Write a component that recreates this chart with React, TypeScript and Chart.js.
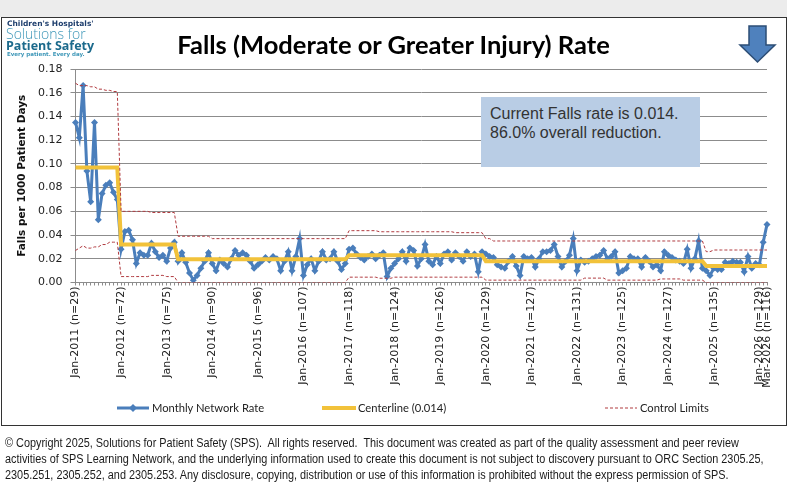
import React, { useEffect, useRef } from "react";
import { Chart, registerables } from "chart.js";

Chart.register(...registerables);

// Reporting period: Jan-2011 through Mar-2026, one point per month
const years = [2011, 2012, 2013, 2014, 2015, 2016, 2017, 2018, 2019, 2020, 2021, 2022, 2023, 2024, 2025, 2026];
const januarySampleSizes = [29, 72, 75, 90, 96, 107, 118, 124, 126, 129, 127, 131, 125, 127, 135, 129];
const lastMonthCount = 3;
const lastMonthTickLabel = "Mar-2026 (n=116)";
const monthNames = ["Jan", "Feb", "Mar", "Apr", "May", "Jun", "Jul", "Aug", "Sep", "Oct", "Nov", "Dec"];

// Falls per 1000 patient days, by month
const monthlyRate = [
  0.135, 0.122, 0.166, 0.094, 0.068, 0.135, 0.053, 0.075, 0.082, 0.084, 0.076, 0.070, // 2011
  0.028, 0.043, 0.044, 0.036, 0.016, 0.025, 0.023, 0.023, 0.033, 0.026, 0.021, 0.023, // 2012
  0.018, 0.029, 0.034, 0.018, 0.025, 0.017, 0.008, 0.002, 0.006, 0.012, 0.018, 0.025, // 2013
  0.016, 0.010, 0.019, 0.016, 0.013, 0.020, 0.027, 0.023, 0.025, 0.023, 0.018, 0.012, // 2014
  0.015, 0.018, 0.021, 0.019, 0.022, 0.020, 0.010, 0.018, 0.026, 0.010, 0.022, 0.037, // 2015
  0.006, 0.015, 0.020, 0.010, 0.018, 0.026, 0.019, 0.020, 0.026, 0.018, 0.011, 0.016, // 2016
  0.028, 0.029, 0.024, 0.021, 0.019, 0.022, 0.024, 0.020, 0.023, 0.025, 0.005, 0.012, // 2017
  0.016, 0.020, 0.026, 0.018, 0.029, 0.027, 0.014, 0.020, 0.032, 0.018, 0.015, 0.022, // 2018
  0.016, 0.024, 0.026, 0.019, 0.025, 0.022, 0.018, 0.026, 0.022, 0.024, 0.009, 0.026, // 2019
  0.024, 0.022, 0.021, 0.015, 0.013, 0.012, 0.018, 0.022, 0.014, 0.006, 0.022, 0.020, // 2020
  0.021, 0.013, 0.020, 0.026, 0.026, 0.027, 0.032, 0.022, 0.013, 0.018, 0.023, 0.037, // 2021
  0.010, 0.019, 0.017, 0.018, 0.020, 0.022, 0.023, 0.027, 0.020, 0.022, 0.026, 0.008, // 2022
  0.010, 0.012, 0.022, 0.020, 0.020, 0.013, 0.021, 0.018, 0.013, 0.015, 0.010, 0.026, // 2023
  0.023, 0.021, 0.019, 0.018, 0.016, 0.028, 0.012, 0.020, 0.035, 0.012, 0.010, 0.006, // 2024
  0.012, 0.011, 0.011, 0.017, 0.016, 0.018, 0.017, 0.017, 0.009, 0.022, 0.012, 0.016, // 2025
  0.015, 0.034, 0.049, // 2026
];

// Phase values as [first month index, value]
const centerlineSteps: [number, number][] = [
  [0, 0.097], [12, 0.032], [27, 0.0195], [72, 0.023], [108, 0.018], [166, 0.014],
];
const upperLimitSteps: [number, number][] = [
  [0, 0.168], [1, 0.166], [4, 0.165], [6, 0.163], [8, 0.162], [10, 0.161],
  [12, 0.060], [20, 0.059],
  [27, 0.039], [36, 0.037],
  [72, 0.0437], [80, 0.0428], [100, 0.042],
  [108, 0.037], [110, 0.035],
  [166, 0.026], [168, 0.0274],
];
const lowerLimitSteps: [number, number][] = [
  [0, 0.027], [1, 0.029], [2, 0.031], [3, 0.029], [5, 0.030], [7, 0.032], [9, 0.034],
  [12, 0.005], [20, 0.006], [24, 0.005],
  [27, 0],
  [72, 0.0045], [80, 0.0036], [84, 0.0045],
  [108, 0.002], [134, 0.0037], [140, 0.002], [154, 0.003], [160, 0.002],
  [166, 0],
];

const footerLines = [
  "© Copyright 2025, Solutions for Patient Safety (SPS).\u00a0 All rights reserved.\u00a0 This document was created as part of the quality assessment and peer review",
  "activities of SPS Learning Network, and the underlying information used to create this document is not subject to discovery pursuant to ORC Section 2305.25,",
  "2305.251, 2305.252, and 2305.253. Any disclosure, copying, distribution or use of this information is prohibited without the express permission of SPS.",
];

const BLUE = "#4A7EBB";
const GOLD = "#F2C23A";
const LIMIT_RED = "#B03A3F";
const GRID = "#8C8C8C";

function buildMonths() {
  const labels: string[] = [];
  const ticks: string[] = [];
  years.forEach((y, yi) => {
    const count = yi === years.length - 1 ? lastMonthCount : 12;
    for (let m = 0; m < count; m++) {
      labels.push(`${monthNames[m]}-${y}`);
      ticks.push(m === 0 ? `Jan-${y} (n=${januarySampleSizes[yi]})` : "");
    }
  });
  ticks[ticks.length - 1] = lastMonthTickLabel;
  return { labels, ticks };
}

function expandSteps(steps: [number, number][], n: number) {
  const out: number[] = [];
  let k = 0;
  for (let i = 0; i < n; i++) {
    while (k + 1 < steps.length && steps[k + 1][0] <= i) k++;
    out.push(steps[k][1]);
  }
  return out;
}

function FallsChart() {
  const ref = useRef<HTMLCanvasElement | null>(null);

  useEffect(() => {
    if (!ref.current) return;
    const { labels, ticks } = buildMonths();
    const n = labels.length;
    const centerline = expandSteps(centerlineSteps, n);
    const upper = expandSteps(upperLimitSteps, n);
    const lower = expandSteps(lowerLimitSteps, n);

    const limitStyle = {
      borderColor: LIMIT_RED,
      borderWidth: 1,
      borderDash: [3, 2],
      pointRadius: 0,
      fill: false,
    };

    const chart = new Chart(ref.current, {
      type: "line",
      data: {
        labels,
        datasets: [
          { label: "Control Limits", data: upper, ...limitStyle },
          { label: "Lower Control Limit", data: lower, ...limitStyle },
          { label: "Centerline (0.014)", data: centerline, borderColor: GOLD, borderWidth: 4, pointRadius: 0, fill: false },
          {
            label: "Monthly Network Rate",
            data: monthlyRate,
            borderColor: BLUE,
            borderWidth: 3,
            pointStyle: "rectRot",
            pointRadius: 3.5,
            pointBackgroundColor: BLUE,
            pointBorderColor: BLUE,
            pointBorderWidth: 0,
            fill: false,
          },
        ],
      },
      options: {
        animation: false,
        responsive: false,
        devicePixelRatio: 1,
        layout: { padding: { top: 69, right: 20, left: 0, bottom: 0 } },
        plugins: { legend: { display: false }, tooltip: { enabled: false } },
        scales: {
          x: {
            type: "category",
            offset: false,
            grid: { drawOnChartArea: false, drawTicks: true, tickLength: 3, color: GRID },
            border: { display: true, color: GRID, width: 1 },
            ticks: {
              autoSkip: false,
              maxRotation: 90,
              minRotation: 90,
              padding: 1,
              color: "#222",
              font: { family: "DejaVu Sans", size: 11 },
              callback: (_v: any, i: number) => ticks[i],
            },
            afterFit: (scale: any) => {
              scale.height = 486 - 282.5;
            },
          },
          y: {
            min: 0,
            max: 0.18,
            grid: { color: GRID, tickLength: 5, lineWidth: 1 },
            border: { display: true, color: GRID, width: 1 },
            ticks: {
              stepSize: 0.02,
              padding: 8,
              color: "#222",
              font: { family: "DejaVu Sans", size: 11 },
              callback: (v: any) => Number(v).toFixed(2),
            },
            title: {
              display: true,
              text: "Falls per 1000 Patient Days",
              color: "#111",
              font: { family: "DejaVu Sans", size: 10.5, weight: "bold" },
              padding: { top: 16, bottom: 0 },
            },
            afterFit: (scale: any) => {
              scale.width = 75.5;
            },
          },
        },
      },
    });
    return () => chart.destroy();
  }, []);

  return <canvas ref={ref} width={787} height={486} style={{ position: "absolute", left: 0, top: 0 }} />;
}

function LegendItem({ x, lineX, kind, text }: { x: number; lineX: number; kind: "rate" | "center" | "limit"; text: string }) {
  return (
    <>
      <svg style={{ position: "absolute", left: lineX, top: 402, overflow: "visible" }} width={34} height={12}>
        {kind === "rate" && (
          <>
            <line x1={0} y1={6} x2={32} y2={6} stroke={BLUE} strokeWidth={3} />
            <polygon points="16,2 20,6 16,10 12,6" fill={BLUE} />
          </>
        )}
        {kind === "center" && <line x1={0} y1={6} x2={34} y2={6} stroke={GOLD} strokeWidth={4} />}
        {kind === "limit" && <line x1={0} y1={6} x2={32} y2={6} stroke={LIMIT_RED} strokeWidth={1} strokeDasharray="3 2" />}
      </svg>
      <div style={{ position: "absolute", left: x, top: 400, fontFamily: "Lato", fontSize: 11.2, color: "#222", whiteSpace: "nowrap", lineHeight: "16px" }}>
        {text}
      </div>
    </>
  );
}

export default function App() {
  return (
    <div style={{ position: "fixed", left: 0, top: 0, width: 787, height: 486, background: "#fff", overflow: "hidden" }}>
      <div style={{ position: "absolute", left: 0, top: 0, width: 787, height: 17, background: "#ececec" }} />
      <div style={{ position: "absolute", left: 1, top: 17, width: 784, height: 407, border: "1px solid #333" }} />
      <FallsChart />

      {/* organisation mark */}
      <div style={{ position: "absolute", left: 7, top: 19, fontFamily: "DejaVu Sans", fontWeight: "bold", fontSize: 7.5, color: "#1F3F6E", whiteSpace: "nowrap" }}>
        Children's Hospitals'
      </div>
      <div style={{ position: "absolute", left: 6, top: 27, fontFamily: "Open Sans", fontWeight: 300, fontSize: 14, color: "#3E97B8", whiteSpace: "nowrap", lineHeight: "14px" }}>
        Solutions for
      </div>
      <div style={{ position: "absolute", left: 6, top: 38, fontFamily: "Open Sans", fontWeight: "bold", fontSize: 12.5, color: "#1C6A8C", whiteSpace: "nowrap", lineHeight: "15px" }}>
        Patient Safety
      </div>
      <div style={{ position: "absolute", left: 7, top: 51, fontFamily: "DejaVu Sans", fontWeight: "bold", fontSize: 5.5, color: "#3E97B8", whiteSpace: "nowrap" }}>
        Every patient. Every day.
      </div>

      <div style={{ position: "absolute", left: 0, width: 787, top: 28, textAlign: "center", fontFamily: "Lato", fontWeight: "bold", fontSize: 25.5, color: "#000", lineHeight: "32px" }}>
        Falls (Moderate or Greater Injury) Rate
      </div>

      <svg style={{ position: "absolute", left: 738, top: 24 }} width={40} height={40}>
        <polygon points="11,2 28,2 28,21 37,21 19.5,38 2,21 11,21" fill="#4F81BD" stroke="#2C4D75" strokeWidth={1.5} strokeLinejoin="miter" />
      </svg>

      <div style={{ position: "absolute", left: 481, top: 97, width: 219, height: 70, background: "#B9CDE5" }} />
      <div style={{ position: "absolute", left: 490, top: 104, fontFamily: "Liberation Sans", fontSize: 16, color: "#333", lineHeight: "19px", whiteSpace: "nowrap" }}>
        Current Falls rate is 0.014.
        <br />
        86.0% overall reduction.
      </div>

      <LegendItem lineX={117} x={152} kind="rate" text="Monthly Network Rate" />
      <LegendItem lineX={322} x={358} kind="center" text="Centerline (0.014)" />
      <LegendItem lineX={605} x={640} kind="limit" text="Control Limits" />

      {footerLines.map((line, i) => (
        <div
          key={i}
          style={{
            position: "absolute",
            left: 5,
            top: 435 + i * 16,
            fontFamily: "Liberation Sans",
            fontSize: 12.5,
            color: "#1a1a1a",
            lineHeight: "16px",
            whiteSpace: "nowrap",
            transform: "scaleX(0.87)",
            transformOrigin: "0 0",
          }}
        >
          {line}
        </div>
      ))}
    </div>
  );
}
